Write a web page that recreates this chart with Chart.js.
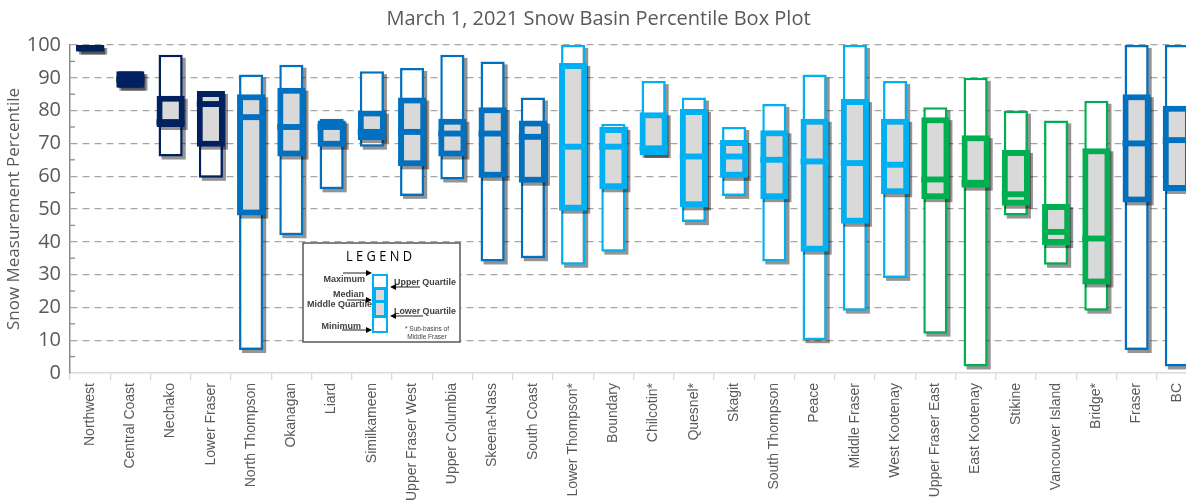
<!DOCTYPE html>
<html>
<head>
<meta charset="utf-8">
<script src="https://cdn.jsdelivr.net/npm/chart.js@4.4.0/dist/chart.umd.min.js"></script>
<style>
  html, body { margin: 0; padding: 0; background: #fff; overflow: hidden; }
</style>
</head>
<body>
<canvas id="grafica" width="1197" height="520"></canvas>
<script>
// basins, left to right
const basins = ["Northwest", "Central Coast", "Nechako", "Lower Fraser", "North Thompson", "Okanagan", "Liard",
    "Similkameen", "Upper Fraser West", "Upper Columbia", "Skeena-Nass", "South Coast", "Lower Thompson*",
    "Boundary", "Chilcotin*", "Quesnel*", "Skagit", "South Thompson", "Peace", "Middle Fraser", "West Kootenay",
    "Upper Fraser East", "East Kootenay", "Stikine", "Vancouver Island", "Bridge*", "Fraser", "BC"]

const minimo  = [98, 87, 66, 59.5, 7, 42, 56, 69, 54, 59, 34, 35, 33, 37, 66.5, 46, 54, 34, 10, 19, 29, 12, 2, 48, 33, 19, 7, 2]
const cuartil1 = [98, 87, 75, 69, 48, 66, 69, 71, 63, 66, 59.5, 58, 49.5, 56, 66.5, 50.5, 59.5, 53, 37, 45.5, 54.5, 53, 56.5, 51, 39, 27, 52, 55.5]
const mediana = [99, 89.5, 76.5, 82, 78, 75, 75, 73.5, 73.5, 73, 73, 72, 69, 69, 68.5, 66, 66, 65, 64.5, 64, 63.5, 59, 58, 54.5, 43, 41, 70, 71]
const cuartil3 = [100, 92, 84.5, 86, 85, 87, 77, 80, 84, 77.5, 81, 77, 94.5, 75, 79.5, 80.5, 71, 74, 77.5, 83.5, 77.5, 78, 72.5, 68, 51.5, 68.5, 85, 81.5]
const maximo  = [100, 92, 97, 86, 91, 94, 77.5, 92, 93, 97, 95, 84, 100, 76, 89, 84, 75, 82, 91, 100, 89, 81, 90, 80, 77, 83, 100, 100]

const yTicks = [0, 10, 20, 30, 40, 50, 60, 70, 80, 90, 100]

// colour group of each basin
const grupos = ["navy", "navy", "navy", "navy", "blue", "blue", "blue", "blue", "blue", "blue", "blue", "blue",
    "light", "light", "light", "light", "light", "light", "light", "light", "light",
    "green", "green", "green", "green", "green", "blue", "blue"]
const paleta = { navy: "#002060", blue: "#0070C0", light: "#00B0F0", green: "#00B050" }
const colores = grupos.map(g => paleta[g])

const GRIS = "#D9D9D9"
const TEXTO = "#595959"
const ANCHO_RANGO = 0.6
const ANCHO_CAJA = 0.7

// shadow behind every box, placed with the chart's own scales
function sombraDe(chart, bajo, alto, pct) {
    const ctx = chart.ctx
    const xs = chart.scales.x, ys = chart.scales.y
    const w = xs.width / basins.length * pct
    ctx.save()
    ctx.fillStyle = "rgba(0,0,0,0.42)"
    basins.forEach((b, i) => {
        const x = xs.getPixelForValue(i) - w / 2
        const top = ys.getPixelForValue(alto[i])
        const h = ys.getPixelForValue(bajo[i]) - top
        ctx.fillRect(x + 3, top + 3, w, h)
    })
    ctx.restore()
}

const sombra = {
    id: "sombra",
    beforeDatasetsDraw(chart) {
        sombraDe(chart, minimo, maximo, ANCHO_RANGO)
    },
    afterDatasetDraw(chart, args) {
        if (args.index === 0) sombraDe(chart, cuartil1, cuartil3, ANCHO_CAJA)
    }
}

function flecha(ctx, x1, y1, x2, y2) {
    ctx.beginPath()
    ctx.moveTo(x1, y1)
    ctx.lineTo(x2, y2)
    ctx.stroke()
    const dir = Math.sign(x2 - x1)
    ctx.beginPath()
    ctx.moveTo(x2 + dir * 2, y2)
    ctx.lineTo(x2 - dir * 4, y2 - 3)
    ctx.lineTo(x2 - dir * 4, y2 + 3)
    ctx.closePath()
    ctx.fill()
}

// minor ticks + the legend picture
const extras = {
    id: "extras",
    afterDraw(chart) {
        const ctx = chart.ctx
        const a = chart.chartArea
        const y = chart.scales.y
        ctx.save()
        ctx.strokeStyle = "#8c8c8c"
        ctx.lineWidth = 1.3
        for (let v = 5; v < 100; v += 10) {
            const py = y.getPixelForValue(v)
            ctx.beginPath()
            ctx.moveTo(a.left, py)
            ctx.lineTo(a.left + 5, py)
            ctx.stroke()
        }

        const x0 = a.left + 233, y0 = a.top + 198
        ctx.fillStyle = "#fff"
        ctx.fillRect(x0, y0, 157, 99)
        ctx.strokeStyle = "#595959"
        ctx.lineWidth = 1.5
        ctx.strokeRect(x0, y0, 157, 99)

        ctx.fillStyle = "#000"
        ctx.font = '15px "Open Sans"'
        ctx.textAlign = "center"
        ctx.textBaseline = "middle"
        ctx.fillText("L E G E N D", x0 + 76, y0 + 14, 66)

        // mini box
        ctx.strokeStyle = "#00B0F0"
        ctx.lineWidth = 2
        ctx.fillStyle = "#fff"
        ctx.fillRect(x0 + 70, y0 + 32, 14, 57)
        ctx.strokeRect(x0 + 70, y0 + 32, 14, 57)
        ctx.fillStyle = "#00B0F0"
        ctx.fillRect(x0 + 69, y0 + 44, 16, 31)
        ctx.fillStyle = GRIS
        ctx.fillRect(x0 + 73, y0 + 47, 8, 10)
        ctx.fillRect(x0 + 73, y0 + 60, 8, 12)

        ctx.fillStyle = "#404040"
        ctx.strokeStyle = "#202020"
        ctx.lineWidth = 1
        ctx.font = 'bold 9px "Liberation Sans"'
        ctx.textAlign = "right"
        ctx.fillText("Maximum", x0 + 62, y0 + 37, 42)
        ctx.fillText("Median", x0 + 61, y0 + 52, 31)
        ctx.fillText("Middle Quartile", x0 + 69, y0 + 62, 65)
        ctx.fillText("Minimum", x0 + 58, y0 + 84, 42)
        ctx.textAlign = "left"
        ctx.fillText("Upper Quartile", x0 + 91, y0 + 40, 62)
        ctx.fillText("Lower Quartile", x0 + 91, y0 + 69, 62)
        ctx.font = '6.5px "Liberation Sans"'
        ctx.textAlign = "center"
        ctx.fillText("* Sub-basins of", x0 + 124, y0 + 86)
        ctx.fillText("Middle Fraser", x0 + 124, y0 + 94)

        ctx.fillStyle = "#000"
        flecha(ctx, x0 + 40, y0 + 30, x0 + 67, y0 + 30)
        flecha(ctx, x0 + 117, y0 + 44, x0 + 89, y0 + 44)
        flecha(ctx, x0 + 44, y0 + 57, x0 + 67, y0 + 57)
        flecha(ctx, x0 + 120, y0 + 73, x0 + 89, y0 + 73)
        flecha(ctx, x0 + 39, y0 + 87, x0 + 67, y0 + 87)
        ctx.restore()
    }
}

const data = {
    labels: basins,
    datasets: [
        {
            label: "Rango",
            data: minimo.map((v, i) => [v, maximo[i]]),
            backgroundColor: "#ffffff",
            borderColor: colores,
            borderWidth: 2.5,
            borderSkipped: false,
            barPercentage: ANCHO_RANGO,
            categoryPercentage: 1,
            grouped: false,
            order: 3
        },
        {
            label: "Cuartiles",
            data: cuartil1.map((v, i) => [v, cuartil3[i]]),
            backgroundColor: GRIS,
            borderColor: colores,
            borderWidth: 6,
            borderSkipped: false,
            barPercentage: ANCHO_CAJA,
            categoryPercentage: 1,
            grouped: false,
            order: 2
        },
        {
            label: "Mediana",
            data: mediana.map(v => [v - 0.9, v + 0.9]),
            backgroundColor: colores,
            borderWidth: 0,
            barPercentage: ANCHO_CAJA,
            categoryPercentage: 1,
            grouped: false,
            order: 1
        }
    ]
}

const config = {
    type: "bar",
    data,
    options: {
        responsive: false,
        animation: false,
        layout: { padding: 0 },
        plugins: {
            legend: { display: false },
            tooltip: { enabled: false },
            title: {
                display: true,
                text: "March 1, 2021 Snow Basin Percentile Box Plot",
                color: TEXTO,
                font: { family: "Open Sans", size: 20, weight: "normal" },
                padding: { top: 7, bottom: 14 }
            }
        },
        scales: {
            x: {
                afterFit: s => { s.height = 147 },
                grid: { drawOnChartArea: false, drawTicks: true, tickLength: 7, offset: true, color: "#d9d9d9", lineWidth: 1.3 },
                border: { color: "#d9d9d9", width: 1.5 },
                ticks: {
                    autoSkip: false, minRotation: 90, maxRotation: 90, padding: 3,
                    color: TEXTO, font: { family: "Liberation Sans", size: 14 }
                }
            },
            y: {
                min: 0,
                max: 100,
                afterFit: s => { s.width = 70 },
                afterBuildTicks: s => { s.ticks = yTicks.map(v => ({ value: v })) },
                grid: {
                    drawTicks: false,
                    color: c => (c.tick && c.tick.value === 0) ? "rgba(0,0,0,0)" : "#a6a6a6",
                    lineWidth: 1.3
                },
                border: { color: "#8c8c8c", width: 1.5, dash: [7, 5] },
                ticks: { padding: 9, color: TEXTO, font: { family: "Open Sans", size: 20 } },
                title: {
                    display: true,
                    text: "Snow Measurement Percentile",
                    color: TEXTO,
                    font: { family: "Open Sans", size: 17 },
                    padding: { top: 4, bottom: 0 }
                }
            }
        }
    },
    plugins: [sombra, extras]
}

const chart = new Chart(document.getElementById("grafica"), config)
</script>
</body>
</html>
